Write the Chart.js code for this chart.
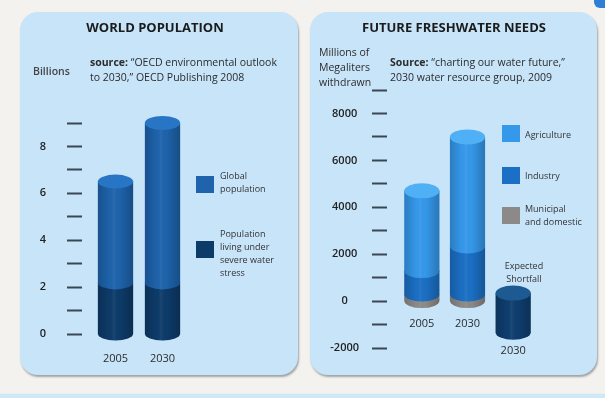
<!DOCTYPE html>
<html>
<head>
<meta charset="utf-8"/>
<style>
  html,body{margin:0;padding:0;}
  body{width:605px;height:398px;background:#f4f2ef;position:relative;overflow:hidden;
       font-family:"Open Sans",sans-serif;color:#2c2c2c;}
  .panel{position:absolute;top:12px;height:363px;background:#c7e4f9;border-radius:18px;
         box-shadow:1px 2px 2px rgba(60,70,80,.45);}
  #p1{left:20px;width:278px;}
  #p2{left:310px;width:287px;}
  .panel canvas{position:absolute;left:0;top:0;}
  .t{position:absolute;white-space:nowrap;}
  .title{font-size:13px;font-weight:700;color:#1b1b1b;line-height:16px;text-align:center;width:240px;}
  .small{font-size:10.5px;line-height:15px;}
  .leg{font-size:9px;line-height:13px;color:#333;}
  .box{position:absolute;width:18px;height:17px;}
  .strip{position:absolute;left:0;right:0;top:393px;height:5px;background:#cfe8f8;border-top:1px solid #e6eef3;}
  .corner{position:absolute;right:0;top:0;width:11px;height:8px;background:#2f7fd6;border-bottom-left-radius:6px;}
</style>
</head>
<body>
<div class="corner"></div>

<div class="panel" id="p1">
  <canvas id="pop" width="278" height="363"></canvas>
  <div class="t title" style="left:15px;top:7px;">WORLD POPULATION</div>
  <div class="t small" style="left:13px;top:52px;font-weight:600;color:#444;">Billions</div>
  <div class="t small" style="left:70px;top:43px;"><b>source:</b> “OECD environmental outlook<br>to 2030,” OECD Publishing 2008</div>
  <div class="box" style="left:176px;top:164px;background:#1e63ab;"></div>
  <div class="t leg" style="left:200px;top:157px;">Global<br>population</div>
  <div class="box" style="left:176px;top:229px;background:#0d3b69;"></div>
  <div class="t leg" style="left:200px;top:215px;">Population<br>living under<br>severe water<br>stress</div>
</div>

<div class="panel" id="p2">
  <canvas id="water" width="287" height="363"></canvas>
  <div class="t title" style="left:24px;top:7px;">FUTURE FRESHWATER NEEDS</div>
  <div class="t small" style="left:9px;top:33px;">Millions of<br>Megaliters<br>withdrawn</div>
  <div class="t small" style="left:80px;top:43px;"><b>Source:</b> “charting our water future,”<br>2030 water resource group, 2009</div>
  <div class="box" style="left:192px;top:113px;background:#3598ea;"></div>
  <div class="t leg" style="left:215px;top:116px;">Agriculture</div>
  <div class="box" style="left:192px;top:155px;background:#1b6fc4;"></div>
  <div class="t leg" style="left:215px;top:157px;">Industry</div>
  <div class="box" style="left:192px;top:195px;background:#8c8a88;"></div>
  <div class="t leg" style="left:215px;top:190px;">Municipal<br>and domestic</div>
  <div class="t leg" style="left:184px;top:247px;width:60px;text-align:center;">Expected<br>Shortfall</div>
</div>

<div class="strip"></div>

<script src="https://cdn.jsdelivr.net/npm/chart.js@4.4.0/dist/chart.umd.min.js"></script>
<script>
// world population, billions
const popYears    = ['2005', '2030'];
const popTotal    = [6.5, 9.0];
const popStressed = [2.2, 2.2];
const popTicks    = [0, 2, 4, 6, 8];

// freshwater withdrawals, millions of megaliters
const waterCats        = ['2005', '2030', '2030'];
const waterMunicipal   = [300, 300, null];
const waterIndustry    = [1000, 2050, null];
const waterAgriculture = [3400, 4650, null];
const waterShortfall   = [null, null, [-1330, 340]];
const waterTicks       = [-2000, 0, 2000, 4000, 6000, 8000];

// bars are drawn as cylinders: body + front arc at the bottom, lighter cap on top
const cylinders = {
  id: 'cylinders',
  beforeDatasetDraw() { return false; },
  afterDatasetsDraw(chart, args, opts) {
    const ctx = chart.ctx;
    const ry = opts.ry || 7;
    chart.data.labels.forEach((label, i) => {
      const parts = [];
      chart.data.datasets.forEach((ds, d) => {
        const el = chart.getDatasetMeta(d).data[i];
        if (ds.data[i] == null || !el) return;
        // floating bars may come back with y below base
        parts.push({
          ds, x: el.x, width: el.width,
          top: Math.min(el.y, el.base), bottom: Math.max(el.y, el.base)
        });
      });
      if (!parts.length) return;
      parts.sort((a, b) => b.top - a.top);

      let lowest = -Infinity;
      parts.forEach((p, k) => {
        const { x, top, width } = p;
        const low = k === 0 ? p.bottom : parts[k - 1].top;
        lowest = Math.max(lowest, p.bottom);
        const rx = width / 2;

        ctx.save();
        ctx.beginPath();
        ctx.moveTo(x - rx, top);
        ctx.lineTo(x - rx, low);
        ctx.ellipse(x, low, rx, ry, 0, Math.PI, 0, true);
        ctx.lineTo(x + rx, top);
        ctx.closePath();
        ctx.fillStyle = p.ds.backgroundColor;
        ctx.fill();
        const g = ctx.createLinearGradient(x - rx, 0, x + rx, 0);
        g.addColorStop(0, 'rgba(0,0,0,0.18)');
        g.addColorStop(0.35, 'rgba(0,0,0,0)');
        g.addColorStop(0.45, 'rgba(255,255,255,0.06)');
        g.addColorStop(0.6, 'rgba(0,0,0,0)');
        g.addColorStop(1, 'rgba(0,0,0,0.22)');
        ctx.fillStyle = g;
        ctx.fill();

        if (k === parts.length - 1) {
          ctx.beginPath();
          ctx.ellipse(x, top, rx, ry, 0, 0, Math.PI * 2);
          ctx.fillStyle = p.ds.capColor;
          ctx.fill();
        }
        ctx.restore();
      });

      const x = parts[0].x;
      const ty = Math.min(lowest + opts.labelGap, chart.chartArea.bottom + (opts.labelFloor ?? 1e4));
      ctx.save();
      ctx.fillStyle = '#2c2c2c';
      ctx.font = '11px "Open Sans"';
      ctx.textAlign = 'center';
      ctx.textBaseline = 'middle';
      ctx.fillText(label, x, ty);
      ctx.restore();
    });
  }
};

function yAxis(min, max, step, width, tickLen, pad, shown) {
  return {
    min, max,
    afterFit(s) { s.width = width; },
    border: { display: false },
    grid: { drawOnChartArea: false, tickLength: tickLen, tickColor: '#3b4652', tickWidth: 2, tickBorderDash: [15, 100] },
    ticks: {
      stepSize: step, autoSkip: false, padding: pad, crossAlign: 'center',
      color: '#222', font: { family: 'Open Sans', size: 11, weight: '600' },
      callback: v => shown.includes(v) ? String(v) : ''
    }
  };
}

new Chart(document.getElementById('pop'), {
  type: 'bar',
  data: {
    labels: popYears,
    datasets: [
      { label: 'Global population', data: popTotal, backgroundColor: '#1e63ab', capColor: '#2775c4' },
      { label: 'Population living under severe water stress', data: popStressed, backgroundColor: '#0d3b69', capColor: '#174f86' }
    ]
  },
  options: {
    responsive: false, animation: false,
    layout: { padding: { top: 111, bottom: 41, left: 0, right: 112 } },
    datasets: { bar: { grouped: false, categoryPercentage: 1, barPercentage: 0.75 } },
    plugins: { legend: { display: false }, tooltip: { enabled: false }, cylinders: { ry: 7, labelGap: 25 } },
    scales: {
      x: { display: false },
      y: yAxis(0, 9, 1, 72, 25, 21, popTicks)
    }
  },
  plugins: [cylinders]
});

new Chart(document.getElementById('water'), {
  type: 'bar',
  data: {
    labels: waterCats,
    datasets: [
      { label: 'Municipal and domestic', data: waterMunicipal, backgroundColor: '#8c8a88', capColor: '#a09e9c' },
      { label: 'Industry', data: waterIndustry, backgroundColor: '#1b6fc4', capColor: '#2a82d6' },
      { label: 'Agriculture', data: waterAgriculture, backgroundColor: '#3598ea', capColor: '#4fb0f6' },
      { label: 'Expected Shortfall', data: waterShortfall, backgroundColor: '#0f3e6e', capColor: '#1d5a92' }
    ]
  },
  options: {
    responsive: false, animation: false,
    layout: { padding: { top: 78, bottom: 27, left: 0, right: 61 } },
    datasets: { bar: { categoryPercentage: 1, barPercentage: 0.77 } },
    plugins: { legend: { display: false }, tooltip: { enabled: false }, cylinders: { ry: 7.5, labelGap: 23, labelFloor: 3 } },
    scales: {
      x: { display: false, stacked: true },
      y: Object.assign(yAxis(-2000, 9000, 1000, 89, 27, 13, waterTicks), { stacked: true })
    }
  },
  plugins: [cylinders]
});
</script>
</body>
</html>
